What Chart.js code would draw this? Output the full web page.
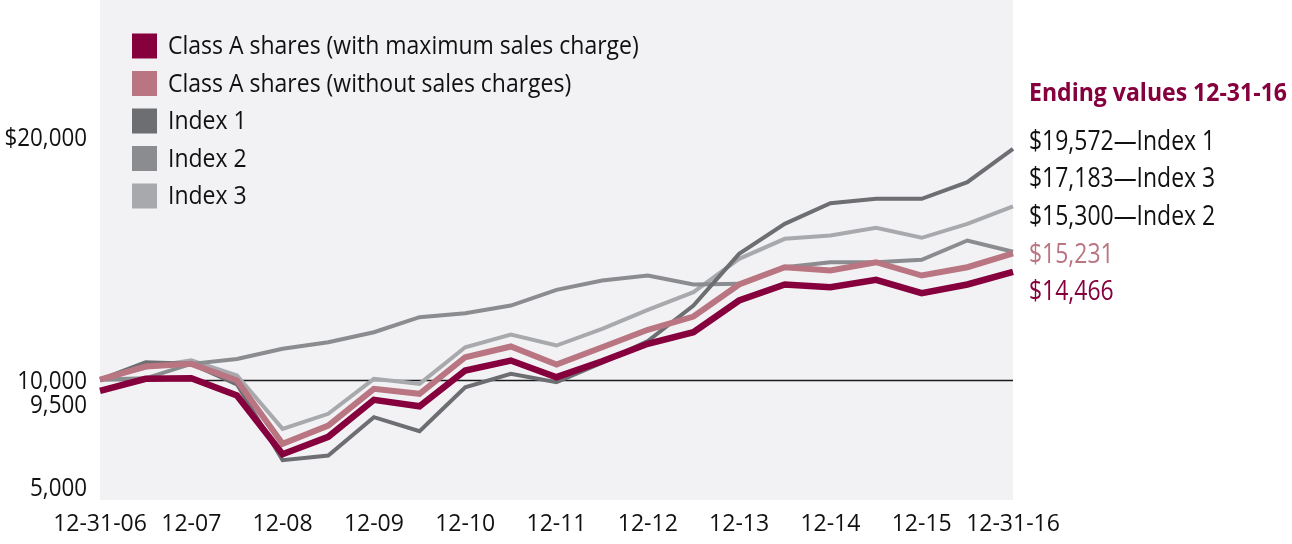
<!DOCTYPE html>
<html>
<head>
<meta charset="utf-8">
<script src="https://cdn.jsdelivr.net/npm/chart.js@4.4.1/dist/chart.umd.min.js"></script>
<style>
  html, body { margin: 0; padding: 0; background: #ffffff; }
  #wrap { width: 1292px; height: 544px; }
</style>
</head>
<body>
<div id="wrap"><canvas id="growthChart" width="1292" height="544"></canvas></div>
<script>
// semi-annual points, 12-31-06 .. 12-31-16
const categories = [
    "12-31-06", "6-07", "12-07", "6-08", "12-08", "6-09", "12-09", "6-10", "12-10", "6-11", "12-11",
    "6-12", "12-12", "6-13", "12-13", "6-14", "12-14", "6-15", "12-15", "6-16", "12-31-16"
];

const classAMax = [9525, 10030, 10055, 9336, 6900, 7620, 9157, 8892, 10373, 10788, 10097,
    10760, 11481, 11963, 13279, 13943, 13831, 14137, 13582, 13943, 14466];
const classANoCharge = [10000, 10540, 10650, 9960, 7330, 8090, 9614, 9407, 10925, 11370, 10622,
    11340, 12063, 12615, 13943, 14660, 14524, 14868, 14316, 14660, 15231];
const index1 = [10000, 10718, 10650, 9800, 6650, 6846, 8436, 7855, 9680, 10236, 9888,
    10700, 11600, 13071, 15217, 16460, 17317, 17498, 17498, 18188, 19572];
const index2 = [10000, 10050, 10650, 10850, 11274, 11548, 11963, 12586, 12752, 13071, 13722,
    14109, 14316, 13943, 13972, 14660, 14868, 14868, 14967, 15769, 15300];
const index3 = [10000, 10500, 10800, 10166, 7954, 8577, 10029, 9820, 11340, 11868, 11411,
    12104, 12893, 13623, 15009, 15839, 15976, 16296, 15881, 16460, 17183];

const seriesNames = [
    "Class A shares (with maximum sales charge)",
    "Class A shares (without sales charges)",
    "Index 1",
    "Index 2",
    "Index 3"
];

const yTickValues = [20000, 10000, 9500, 5000];
const yTickLabels = ["$20,000", "10,000", "9,500", "5,000"];

const endingTitle = "Ending values 12-31-16";
const endingLabels = ["$19,572\u2014Index 1", "$17,183\u2014Index 3", "$15,300\u2014Index 2", "$15,231", "$14,466"];

const MAROON = "#85003d";
const PINK = "#b97581";
const GRAY1 = "#6d6e71";
const GRAY2 = "#8b8c8f";
const GRAY3 = "#a8a9ac";
const FONT = "'Open Sans', sans-serif";

const endingColors = ["#111111", "#111111", "#111111", PINK, MAROON];

// the original uses a condensed face, so squeeze Open Sans a little
function squeezedText(ctx, text, x, y, sx) {
    ctx.save();
    ctx.translate(x, y);
    ctx.scale(sx, 1);
    ctx.fillText(text, 0, 0);
    ctx.restore();
}

// plot background + 10,000 reference line
const backdrop = {
    id: "backdrop",
    beforeDatasetsDraw(chart) {
        const { ctx, chartArea, scales } = chart;
        ctx.save();
        ctx.fillStyle = "#f2f2f4";
        ctx.fillRect(chartArea.left, chartArea.top, chartArea.right - chartArea.left, chartArea.bottom - chartArea.top);
        const y = Math.round(scales.y.getPixelForValue(10000)) + 0.5;
        ctx.strokeStyle = "#1a1a1a";
        ctx.lineWidth = 1.5;
        ctx.beginPath();
        ctx.moveTo(chartArea.left, y);
        ctx.lineTo(chartArea.right, y);
        ctx.stroke();
        ctx.restore();
    }
};

// y labels, legend box and ending values
const annotations = {
    id: "annotations",
    afterDraw(chart) {
        const { ctx, chartArea, scales } = chart;
        ctx.save();

        // y axis labels (9,500 and 5,000 sit a bit off their value, like the original)
        const shifts = [0, 2, 14, -11];
        ctx.font = "26px " + FONT;
        ctx.fillStyle = "#111111";
        ctx.textAlign = "right";
        ctx.textBaseline = "middle";
        yTickValues.forEach((v, i) => {
            squeezedText(ctx, yTickLabels[i], 87, scales.y.getPixelForValue(v) + shifts[i], 0.86);
        });

        // legend
        ctx.textAlign = "left";
        ctx.font = "25px " + FONT;
        chart.data.datasets.forEach((ds, i) => {
            const cy = 46 + i * 37.5;
            ctx.fillStyle = ds.borderColor;
            ctx.fillRect(132, cy - 12.5, 25, 25);
            ctx.fillStyle = "#111111";
            squeezedText(ctx, ds.label, 168, cy + 1, 0.92);
        });

        // ending values
        const x0 = chartArea.right + 16;
        ctx.font = "bold 25px " + FONT;
        ctx.fillStyle = MAROON;
        const titleW = ctx.measureText(endingTitle).width;
        squeezedText(ctx, endingTitle, x0, 94, Math.min(1, 258 / titleW));
        ctx.font = "27px " + FONT;
        endingLabels.forEach((t, i) => {
            ctx.fillStyle = endingColors[i];
            squeezedText(ctx, t, x0, 142 + i * 37.7, 0.85);
        });

        ctx.restore();
    }
};

function line(label, data, color, width) {
    return {
        label: label,
        data: data,
        borderColor: color,
        backgroundColor: color,
        borderWidth: width,
        pointRadius: 0,
        tension: 0,
        borderJoinStyle: "miter",
        borderCapStyle: "butt"
    };
}

document.addEventListener("DOMContentLoaded", () => {

    const canvas = document.getElementById("growthChart");

    new Chart(canvas, {
        type: "line",
        data: {
            labels: categories,
            datasets: [
                line(seriesNames[0], classAMax, MAROON, 6.5),
                line(seriesNames[1], classANoCharge, PINK, 6),
                line(seriesNames[2], index1, GRAY1, 4),
                line(seriesNames[3], index2, GRAY2, 4),
                line(seriesNames[4], index3, GRAY3, 4)
            ]
        },
        options: {
            responsive: false,
            animation: false,
            events: [],
            layout: { padding: { left: 100, right: 279, top: 0, bottom: 0 } },
            plugins: {
                legend: { display: false },
                tooltip: { enabled: false }
            },
            scales: {
                x: {
                    offset: false,
                    grid: { display: false, drawTicks: false },
                    border: { display: false },
                    afterFit: (scale) => { scale.height = 44; },
                    ticks: {
                        autoSkip: false,
                        maxRotation: 0,
                        padding: 11,
                        color: "#111111",
                        font: { family: FONT, size: 23 },
                        callback: (val, i) => (i % 2 === 0 ? categories[i] : "")
                    }
                },
                y: {
                    display: false,
                    min: 5000,
                    max: 25750
                }
            }
        },
        plugins: [backdrop, annotations]
    });

});
</script>
</body>
</html>
